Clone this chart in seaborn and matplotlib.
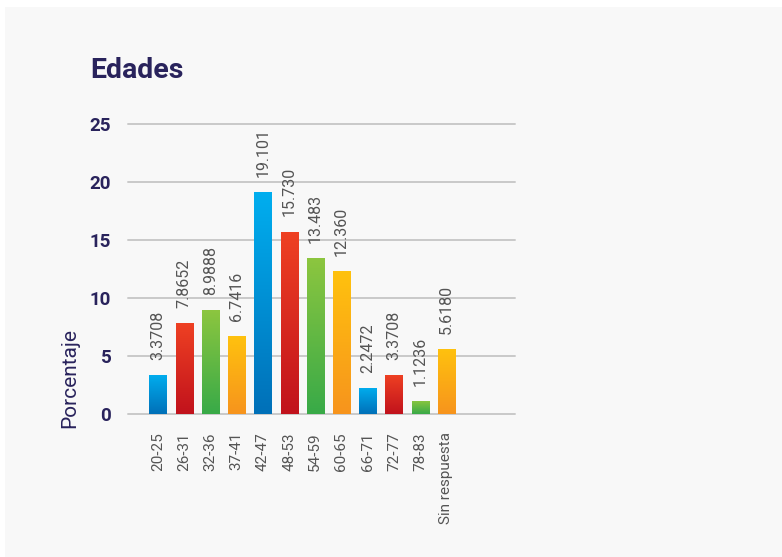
import matplotlib
matplotlib.use("Agg")
import matplotlib.pyplot as plt
import numpy as np
import pandas as pd
import seaborn as sns
from matplotlib.colors import LinearSegmentedColormap
from matplotlib.patches import Rectangle

# Age ranges and the share of respondents (%) in each
categories = ["20-25", "26-31", "32-36", "37-41", "42-47", "48-53",
              "54-59", "60-65", "66-71", "72-77", "78-83", "Sin respuesta"]
values = [3.3708, 7.8652, 8.9888, 6.7416, 19.101, 15.730,
          13.483, 12.360, 2.2472, 3.3708, 1.1236, 5.6180]
value_labels = ["3.3708", "7.8652", "8.9888", "6.7416", "19.101", "15.730",
                "13.483", "12.360", "2.2472", "3.3708", "1.1236", "5.6180"]

# Repeating colour cycle: (top, bottom) of each vertical gradient
gradients = [("#00aeef", "#0070b8"),   # blue
             ("#ef4123", "#c1121c"),   # red
             ("#8dc63f", "#38aa48"),   # green
             ("#ffc20e", "#f7941d")]   # orange
y_ticks = [0, 5, 10, 15, 20, 25]

navy = "#29235c"
grey_text = "#555555"
grid_col = "#c9c9c9"

sns.set_theme(style="white")
plt.rcParams["font.family"] = ["Roboto", "DejaVu Sans"]

fig = plt.figure(figsize=(7.82, 5.57), dpi=100)
fig.patch.set_facecolor("white")
fig.add_artist(Rectangle((5 / 782, 0), 1, 1 - 7 / 557, transform=fig.transFigure,
                         facecolor="#f8f8f8", edgecolor="none", zorder=-10))

ax = fig.add_axes([128 / 782, 1 - 414 / 557, (515 - 128) / 782, (414 - 124) / 557])
ax.set_facecolor("none")

df = pd.DataFrame({"edad": categories, "pct": values})
sns.barplot(data=df, x="edad", y="pct", ax=ax, width=0.65, color="#888888",
            saturation=1, zorder=3)

ax.set_xlim(-1.145, 13.62)
ax.set_ylim(0, 25)
ax.set_yticks(y_ticks)
for y in y_ticks:
    ax.axhline(y, color=grid_col, lw=1.4, zorder=1, clip_on=False)

# Paint each bar with a vertical gradient clipped to its rectangle
for i, patch in enumerate(ax.patches):
    top, bottom = gradients[i % len(gradients)]
    cmap = LinearSegmentedColormap.from_list(f"g{i}", [bottom, top])
    x0, y0 = patch.get_x(), patch.get_y()
    w, h = patch.get_width(), patch.get_height()
    grad = np.linspace(0, 1, 256).reshape(-1, 1)
    im = ax.imshow(grad, cmap=cmap, origin="lower", aspect="auto",
                   extent=(x0, x0 + w, y0, y0 + h), zorder=3)
    im.set_clip_path(patch)
    patch.set_facecolor("none")
    patch.set_edgecolor("none")
    ax.text(x0 + w / 2, h + 1.3, value_labels[i], rotation=90, ha="center",
            va="bottom", fontsize=11.5, color=grey_text)

ax.set_xlim(-1.145, 13.62)
ax.set_ylim(0, 25)

for s in ax.spines.values():
    s.set_visible(False)
ax.tick_params(axis="both", length=0)
ax.tick_params(axis="y", pad=12, labelsize=13.5, labelcolor=navy)
ax.tick_params(axis="x", pad=13, labelsize=11, labelcolor=grey_text)
for lab in ax.get_yticklabels():
    lab.set_fontweight("bold")
for lab in ax.get_xticklabels():
    lab.set_rotation(90)
    lab.set_va("top")

ax.set_xlabel("")
ax.set_ylabel("")
fig.text(70 / 782, 1 - 378 / 557, "Porcentaje", rotation=90, ha="center",
         va="center", fontsize=15, color=navy)
fig.text(90 / 782, 1 - 70 / 557, "Edades", ha="left", va="center",
         fontsize=20.5, fontweight="bold", color=navy)

fig.savefig("out.png", dpi=100, facecolor=fig.get_facecolor())
